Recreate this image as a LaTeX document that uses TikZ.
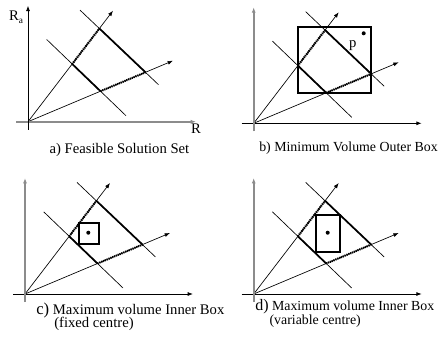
\documentclass[tikz,border=0pt]{standalone}
\usepackage{fontspec}
\setmainfont{Liberation Serif}
\usetikzlibrary{arrows.meta}

\begin{document}
\begin{tikzpicture}[x=0.75pt, y=-0.75pt,
    axis/.style={line width=0.6pt, -{Latex[length=4pt, width=3pt]}},
    grayaxis/.style={axis, draw=black!45, line width=1.3pt},
    ray/.style={line width=0.5pt, -{Latex[length=4pt, width=3pt]}},
    cut/.style={line width=0.5pt},
    bound/.style={line width=1.3pt},
    edge/.style={line width=1.6pt, dash pattern=on 0.8pt off 0.7pt},
    box/.style={line width=1.3pt},
    caption/.style={font=\fontsize{11}{12}\selectfont, anchor=west, inner sep=0pt},
    small caption/.style={caption, font=\fontsize{10.4}{12}\selectfont},
    centre/.style={circle, fill, inner sep=0pt, minimum size=3pt}]
  \useasboundingbox (0,0) rectangle (442,340);

  % the same feasible set in every panel
  \foreach \p/\x/\y in {a/28/121.7, b/253.7/123.3, c/25/294, d/253.7/294} {
    \begin{scope}[shift={(\x,\y)}]
      \coordinate (\p-o) at (0,0);
      \coordinate (\p-xs) at (-12,0);
      \coordinate (\p-xe) at (168,0);
      \coordinate (\p-ys) at (0,8);
      \coordinate (\p-ye) at (0,-116);
      \coordinate (\p-r1) at (85,-111);
      \coordinate (\p-r2) at (145,-61);
      \coordinate (\p-l1s) at (52,-111.6);
      \coordinate (\p-l1e) at (130.4,-37.1);
      \coordinate (\p-l2s) at (18.7,-82.2);
      \coordinate (\p-l2e) at (98,-6);
      \coordinate (\p-p1) at (44.2,-57.7);
      \coordinate (\p-p2) at (71.4,-93.2);
      \coordinate (\p-p3) at (72.5,-30.5);
      \coordinate (\p-p4) at (117.5,-49.4);
    \end{scope}
    \draw[ray] (\p-o) -- (\p-r1);
    \draw[ray] (\p-o) -- (\p-r2);
    \draw[cut] (\p-l1s) -- (\p-l1e);
    \draw[cut] (\p-l2s) -- (\p-l2e);
    \draw[bound] (\p-p1) -- (\p-p3);
    \draw[bound] (\p-p2) -- (\p-p4);
    \draw[edge] (\p-p1) -- (\p-p2);
    \draw[edge] (\p-p3) -- (\p-p4);
  }

  % axes
  \draw[grayaxis] (a-xs) -- (a-xe);
  \draw[axis] (a-ys) -- (a-ye);
  \foreach \p in {b, c, d} {
    \draw[axis] (\p-xs) -- (\p-xe);
    \draw[grayaxis] (\p-ys) -- (\p-ye);
  }
  \node[font=\fontsize{11}{12}\selectfont, inner sep=0pt] (ra) at (16,17) {R\raisebox{-0.4ex}{\fontsize{7}{8}\selectfont a}};
  \node[font=\fontsize{11}{12}\selectfont, inner sep=0pt] (r) at (196,129) {R};

  % b) outer box
  \coordinate (b-bx1) at (297.9,27.3);
  \coordinate (b-bx2) at (371.2,92.8);
  \draw[box] (b-bx1) rectangle (b-bx2);
  \node[centre] (b-dot) at (363.7,33.3) {};
  \node[font=\fontsize{11}{12}\selectfont, inner sep=0pt] (b-p) at (352.7,45.5) {p};

  % c) inner box, fixed centre
  \coordinate (c-bx1) at (79.3,223.3);
  \coordinate (c-bx2) at (99.3,244);
  \draw[box] (c-bx1) rectangle (c-bx2);
  \node[centre] (c-dot) at (88.3,232.7) {};

  % d) inner box, variable centre
  \coordinate (d-bx1) at (316,215);
  \coordinate (d-bx2) at (340.3,251.7);
  \draw[box] (d-bx1) rectangle (d-bx2);
  \node[centre] (d-dot) at (327.7,232.7) {};

  % captions
  \node[caption] (a-cap) at (49.3,150) {a) Feasible Solution Set};
  \node[small caption] (b-cap) at (259,148) {b) Minimum Volume Outer Box};
  \node[caption] (c-cap) at (36,310) {{\fontsize{12.5}{14}\selectfont c)} Maximum volume Inner Box};
  \node[caption] (c-cap2) at (54,323.5) {(fixed centre)};
  \node[small caption] (d-cap) at (255,307) {{\fontsize{12}{14}\selectfont d)} Maximum volume Inner Box};
  \node[small caption] (d-cap2) at (269.3,321) {(variable centre)};
\end{tikzpicture}
\end{document}
